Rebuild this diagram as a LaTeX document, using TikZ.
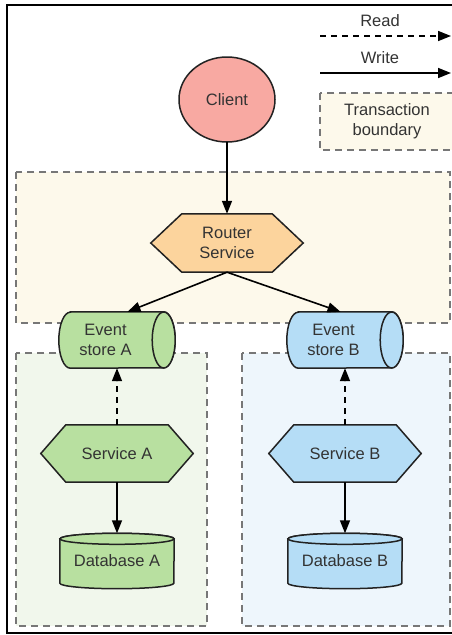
\documentclass[tikz,border=0pt]{standalone}
\usepackage{fontspec}
\setmainfont{Liberation Sans}
\usetikzlibrary{arrows.meta,shapes.geometric,calc}
\definecolor{txt}{HTML}{333333}
\definecolor{edge}{HTML}{222222}
\definecolor{clientfill}{HTML}{F8A9A2}
\definecolor{routerfill}{HTML}{FCD49D}
\definecolor{greenfill}{HTML}{B8E0A0}
\definecolor{bluefill}{HTML}{B5DDF6}
\definecolor{creambox}{HTML}{FDF9EB}
\definecolor{greenbox}{HTML}{F1F7EC}
\definecolor{bluebox}{HTML}{EEF6FC}
\definecolor{dashgray}{HTML}{777777}
\pgfdeclarelayer{bgboxes}
\pgfdeclarelayer{shp}
\pgfsetlayers{bgboxes,shp,main}
\tikzset{
  lbl/.style={font=\fontsize{16.5}{19.5}\selectfont, text=txt, align=center, inner sep=0pt},
  shapeline/.style={draw=edge, line width=1.5pt},
  hexbox/.style={lbl, minimum width=152pt, minimum height=57pt},
  hstore/.style={lbl, minimum width=93pt, minimum height=56pt},
  vstore/.style={lbl, minimum width=114pt, minimum height=44pt},
  tbox/.style={draw=dashgray, line width=1.2pt, dash pattern=on 7pt off 5pt},
  wr/.style={draw=black, line width=1.6pt, -{Triangle[length=13pt,width=10pt]}},
  rd/.style={wr, dash pattern=on 6pt off 5pt},
}
\newcommand{\hexshape}[3]{% node, fill, depth
  \draw[shapeline, fill=#2] (#1.west) -- ([xshift=#3]#1.north west) -- ([xshift=-#3]#1.north east) -- (#1.east) -- ([xshift=-#3]#1.south east) -- ([xshift=#3]#1.south west) -- cycle;}
\newcommand{\hstoreshape}[2]{%
  \draw[shapeline, fill=#2] ([xshift=11.5pt]#1.north west) -- ([xshift=11.5pt]#1.north east) arc[start angle=90,end angle=-90,x radius=11.5pt,y radius=28pt] -- ([xshift=11.5pt]#1.south west) arc[start angle=270,end angle=90,x radius=11.5pt,y radius=28pt] -- cycle;
  \draw[shapeline, fill=#2] ([xshift=11.5pt]#1.east) ellipse[x radius=11.5pt,y radius=28pt];}
\newcommand{\vstoreshape}[2]{%
  \draw[shapeline, fill=#2] (#1.north west) -- (#1.south west) arc[start angle=180,end angle=360,x radius=57pt,y radius=5.5pt] -- (#1.north east) arc[start angle=0,end angle=180,x radius=57pt,y radius=5.5pt] -- cycle;
  \draw[shapeline, fill=#2] (#1.north) ellipse[x radius=57pt,y radius=5.5pt];}
\begin{document}
\begin{tikzpicture}[x=1pt,y=-1pt]
\useasboundingbox (0,0) rectangle (451,635);
\clip (0,0) rectangle (451,635);

% nodes
\node[lbl, ellipse, minimum width=96pt, minimum height=85pt] (cl) at (227,99.5) {Client};
\node[hexbox, minimum height=58pt] (rt) at (227,243) {Router\\Service};
\node[hstore] (esA) at (105.5,340) {Event\\store A};
\node[hstore] (esB) at (333.5,340) {Event\\store B};
\node[hexbox] (svA) at (117,453.5) {Service A};
\node[hexbox] (svB) at (345,453.5) {Service B};
\node[vstore] (dbA) at (117,561) {Database A};
\node[vstore] (dbB) at (345,561) {Database B};

% legend
\node[lbl] (lgR) at (380,21) {Read};
\node[lbl] (lgW) at (380,58) {Write};
\coordinate (rdS) at (320,36);
\coordinate (rdE) at (451,36);
\coordinate (wrS) at (320,73);
\coordinate (wrE) at (451,73);
\node[lbl] (lgT) at (387,121) {Transaction\\boundary};

\begin{pgfonlayer}{bgboxes}
  \fill[white] (0,0) rectangle (451,635);
  \draw[black, line width=2.2pt] (7,5) rectangle (480,633);
  \draw[tbox, fill=creambox] (320,93) rectangle (456,150);
  \draw[tbox, fill=creambox] (16,172) rectangle (450,323);
  \draw[tbox, fill=greenbox] (16,353) rectangle (207,626);
  \draw[tbox, fill=bluebox] (242,353) rectangle (450,626);
\end{pgfonlayer}

\begin{pgfonlayer}{shp}
  \draw[shapeline, fill=clientfill] (cl.center) ellipse[x radius=48pt, y radius=42.5pt];
  \hexshape{rt}{routerfill}{31pt}
  \hstoreshape{esA}{greenfill}
  \hstoreshape{esB}{bluefill}
  \hexshape{svA}{greenfill}{25pt}
  \hexshape{svB}{bluefill}{25pt}
  \vstoreshape{dbA}{greenfill}
  \vstoreshape{dbB}{bluefill}
\end{pgfonlayer}

% connectors
\draw[rd] (rdS) -- (rdE);
\draw[wr] (wrS) -- (wrE);
\draw[wr] (cl.south) -- (rt.north);
\draw[wr] (rt.south) -- ([xshift=22pt]esA.north);
\draw[wr] (rt.south) -- ([xshift=7pt]esB.north);
\draw[rd] (svA.north) -- (esA.south -| svA.north);
\draw[rd] (svB.north) -- (esB.south -| svB.north);
\draw[wr] (svA.south) -- ([yshift=5.5pt]dbA.north);
\draw[wr] (svB.south) -- ([yshift=5.5pt]dbB.north);
\end{tikzpicture}
\end{document}
